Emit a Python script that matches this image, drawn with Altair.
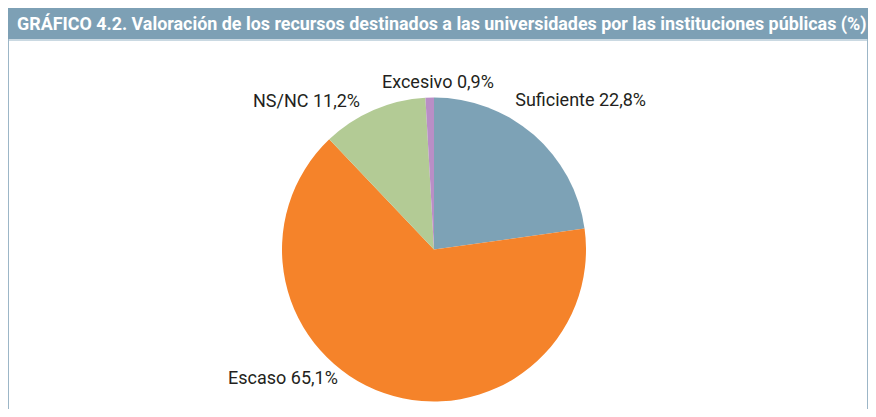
import altair as alt
import pandas as pd

TITLE = "GRÁFICO 4.2. Valoración de los recursos destinados a las universidades por las instituciones públicas (%)"
categories = ["Suficiente", "Escaso", "NS/NC", "Excesivo"]
values = [22.8, 65.1, 11.2, 0.9]
value_labels = ["22,8%", "65,1%", "11,2%", "0,9%"]
colors = ["#7DA2B6", "#F5832A", "#B3CB95", "#B98EC6"]

df = pd.DataFrame({
    "cat": categories,
    "value": values,
    "label": [f"{c} {v}" for c, v in zip(categories, value_labels)],
    "idx": list(range(len(categories))),
})
one = pd.DataFrame({"a": [0]})

W, H = 860, 401
CX, CY, R = 426, 241.5, 152
FONT = "Roboto"

header = alt.Chart(one).mark_rect(color="#7DA0B5").encode(
    x=alt.value(0), x2=alt.value(W), y=alt.value(0), y2=alt.value(31)
)
under = alt.Chart(one).mark_rule(color="#B8CCD8", strokeWidth=1.5).encode(
    x=alt.value(0), x2=alt.value(W), y=alt.value(32)
)
left_b = alt.Chart(one).mark_rule(color="#9CB6C7", strokeWidth=1).encode(
    x=alt.value(0.5), y=alt.value(31), y2=alt.value(H)
)
right_b = alt.Chart(one).mark_rule(color="#9CB6C7", strokeWidth=1).encode(
    x=alt.value(W - 0.5), y=alt.value(31), y2=alt.value(H)
)
title = alt.Chart(one).mark_text(
    text=TITLE, color="white", font=FONT, fontSize=17.9, fontWeight="bold",
    align="left", baseline="alphabetic"
).encode(x=alt.value(9), y=alt.value(22))

theta = alt.Theta("value:Q", stack=True)
pie = alt.Chart(df).mark_arc(outerRadius=R, stroke=None).encode(
    theta=theta,
    order=alt.Order("idx:Q"),
    color=alt.Color("cat:N", scale=alt.Scale(domain=categories, range=colors), legend=None),
    x=alt.value(CX), y=alt.value(CY),
)

offsets = {
    "Suficiente": (35, -15),
    "Escaso": (-95, -26),
    "NS/NC": (-60, 13.5),
    "Excesivo": (8.7, 8.4),
}
label_layers = []
for c in categories:
    dx, dy = offsets[c]
    label_layers.append(
        alt.Chart(df).mark_text(
            radius=170, font=FONT, fontSize=18, color="#231F20",
            align="center", baseline="alphabetic", dx=dx, dy=dy
        ).encode(
            theta=theta,
            order=alt.Order("idx:Q"),
            text="label:N",
            x=alt.value(CX), y=alt.value(CY),
            opacity=alt.condition(alt.datum.cat == c, alt.value(1), alt.value(0)),
        )
    )

chart = alt.layer(header, under, left_b, right_b, title, pie, *label_layers).properties(
    width=W, height=H, autosize=alt.AutoSizeParams(type="none"), padding=0
).configure_view(stroke=None)

chart.save("out.html", embed_options={"renderer": "svg", "actions": False})
